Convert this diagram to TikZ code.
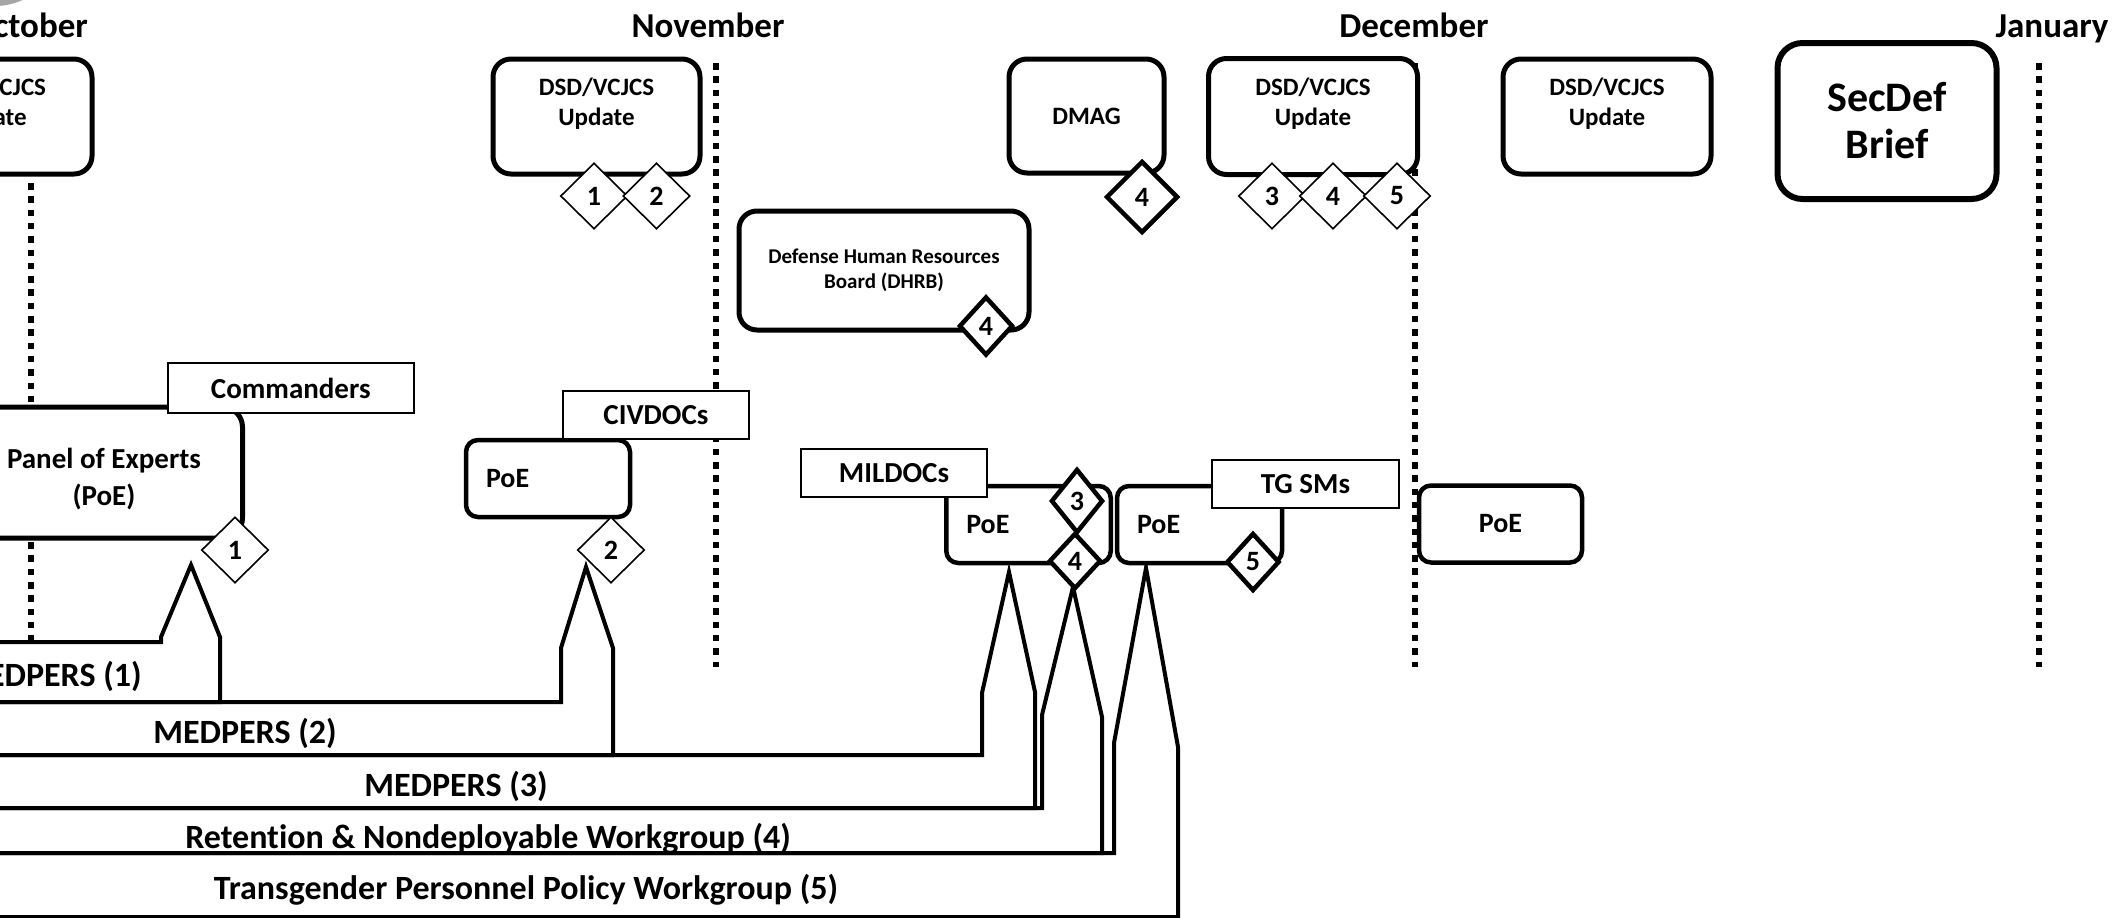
\documentclass[tikz,border=0pt]{standalone}
\usepackage{fontspec}
\setmainfont{Carlito}[Ligatures=NoCommon]
\usepackage{tikz}
\usetikzlibrary{positioning,shapes}
\pgfkeys{tikz/meetbox/.style={draw,line width=5pt,rounded corners=18pt,fill=white,align=center,inner sep=0pt,font=\bfseries\fontsize{25}{30}\selectfont}}
\pgfkeys{tikz/poebox/.style={draw,line width=4.5pt,rounded corners=12pt,fill=white,inner sep=0pt,minimum height=77pt,font=\bfseries\fontsize{28}{34}\selectfont}}
\pgfkeys{tikz/tagbox/.style={draw,line width=2pt,fill=white,inner sep=0pt,minimum height=48pt,font=\bfseries\fontsize{29}{35}\selectfont}}
\pgfkeys{tikz/markdia/.style={diamond,draw,fill=white,inner sep=0pt,minimum width=67pt,minimum height=66pt,line width=1.6pt,font=\bfseries\fontsize{28}{34}\selectfont}}
\pgfkeys{tikz/markdiabold/.style={markdia,line width=4.5pt,minimum width=53pt,minimum height=58pt}}
\pgfkeys{tikz/monthline/.style={line width=5.5pt,dash pattern=on 6.5pt off 6.8pt}}
\pgfkeys{tikz/bandline/.style={line width=4pt,line join=miter}}
\pgfkeys{tikz/bandlabel/.style={font=\bfseries\fontsize{34}{40}\selectfont,inner sep=0pt}}
\pgfkeys{tikz/monthlabel/.style={font=\bfseries\fontsize{35}{42}\selectfont,anchor=base,inner sep=0pt}}

\begin{document}
\begin{tikzpicture}[x=1pt,y=-1pt]
  \useasboundingbox (0,0) rectangle (2112,918);
  \fill[gray!70] (-5,-60) circle (66pt);

  \node[monthlabel] (oct) at (29,37) {October};
  \node[monthlabel] (nov) at (708,37) {November};
  \node[monthlabel] (dec) at (1414,37) {December};
  \node[monthlabel] (jan) at (2052,37) {January};
  \foreach \x/\a/\b in {31/183/640,716/63/667,1415/63/667,2039/63/667}
    \draw[monthline] (\x,\a) -- (\x,\b);

  \draw[bandline] (-20,642) -- (161,642) -- (161,637) -- (191,565) -- (220,637) -- (220,702) -- (-20,702);
  \draw[bandline] (-20,702) -- (561,702) -- (561,648) -- (586,567) -- (613,648) -- (613,755) -- (-20,755);
  \draw[bandline] (-20,755) -- (982,755) -- (982,693) -- (1009,572) -- (1035,692) -- (1035,808) -- (-20,808);
  \draw[bandline] (-20,808) -- (1042,808) -- (1042,715) -- (1073,587) -- (1102,717) -- (1102,853) -- (-20,853);
  \draw[bandline] (-20,853) -- (1114,853) -- (1114,743) -- (1146,568) -- (1178,747) -- (1178,917) -- (-20,917);
  \node[bandlabel] (medpers1) at (50,676) {MEDPERS (1)};
  \node[bandlabel] (medpers2) at (245,733) {MEDPERS (2)};
  \node[bandlabel] (medpers3) at (456,786) {MEDPERS (3)};
  \node[bandlabel] (retwg) at (488,839) {Retention \& Nondeployable Workgroup (4)};
  \node[bandlabel] (tgwg) at (526,890) {Transgender Personnel Policy Workgroup (5)};

  \node[meetbox,minimum width=207pt,minimum height=115pt] (upd0) at (-11.5,116.5) {DSD/VCJCS\\Update\\\mbox{}};
  \node[meetbox,minimum width=207pt,minimum height=115pt] (upd1) at (596.5,116.5) {DSD/VCJCS\\Update\\\mbox{}};
  \node[meetbox,minimum width=209pt,minimum height=116pt] (upd2) at (1313,116.5) {DSD/VCJCS\\Update\\\mbox{}};
  \node[meetbox,minimum width=208pt,minimum height=115pt] (upd3) at (1607,116.5) {DSD/VCJCS\\Update\\\mbox{}};
  \node[meetbox,minimum width=155pt,minimum height=114pt] (dmag) at (1086.5,116) {DMAG};
  \node[meetbox,minimum width=219pt,minimum height=156pt,line width=6pt,rounded corners=25pt,font=\bfseries\fontsize{42}{47}\selectfont] (secdef) at (1887,121) {SecDef\\Brief};
  \node[meetbox,minimum width=290pt,minimum height=119pt,font=\bfseries\fontsize{21}{25}\selectfont] (dhrb) at (884,270.5) {Defense Human Resources\\Board (DHRB)};

  \node[meetbox,minimum width=277pt,minimum height=131pt,rounded corners=20pt,font=\bfseries\fontsize{29}{37}\selectfont] (panel) at (104,472.5) {\rule{0pt}{33pt}Panel of Experts\\(PoE)};
  \node[tagbox,minimum width=246.5pt,minimum height=50pt] (cmdrs) at (290.75,388) {Commanders};

  \node[poebox,minimum height=77pt,inner xsep=20pt,text width=124pt,align=left] (poe2) at (548,478.5) {PoE};
  \node[tagbox,minimum width=186pt] (civdocs) at (656,415) {CIVDOCs};
  \node[poebox,inner xsep=20pt,text width=124.5pt,align=left] (poe3) at (1028.5,524.5) {PoE};
  \node[tagbox,minimum width=186.5pt] (mildocs) at (894,473) {MILDOCs};
  \node[poebox,inner xsep=20pt,text width=125pt,align=left] (poe4) at (1199.5,524.5) {PoE};
  \node[tagbox,minimum width=187pt] (tgsms) at (1305.5,484) {TG SMs};
  \node[poebox,minimum width=163pt] (poe5) at (1500.5,524) {PoE};

  \node[markdia] (d1a) at (235,550) {1};
  \node[markdia] (d2a) at (611,550) {2};
  \node[markdia] (d1b) at (594,196) {1};
  \node[markdia] (d2b) at (656.5,196) {2};
  \node[markdiabold,minimum width=72pt,minimum height=72pt] (d4a) at (1142,197) {4};
  \node[markdia] (d3c) at (1272,196) {3};
  \node[markdia] (d4c) at (1333,196) {4};
  \node[markdia] (d5c) at (1397,196) {5};
  \node[markdiabold,minimum width=54pt,minimum height=59pt] (d4b) at (986,326) {4};
  \node[markdiabold,minimum width=52pt,minimum height=64pt] (d3d) at (1077,501) {3};
  \node[markdiabold,minimum width=52pt,minimum height=56pt] (d4d) at (1075,561) {4};
  \node[markdiabold] (d5d) at (1253,562) {5};
\end{tikzpicture}
\end{document}
